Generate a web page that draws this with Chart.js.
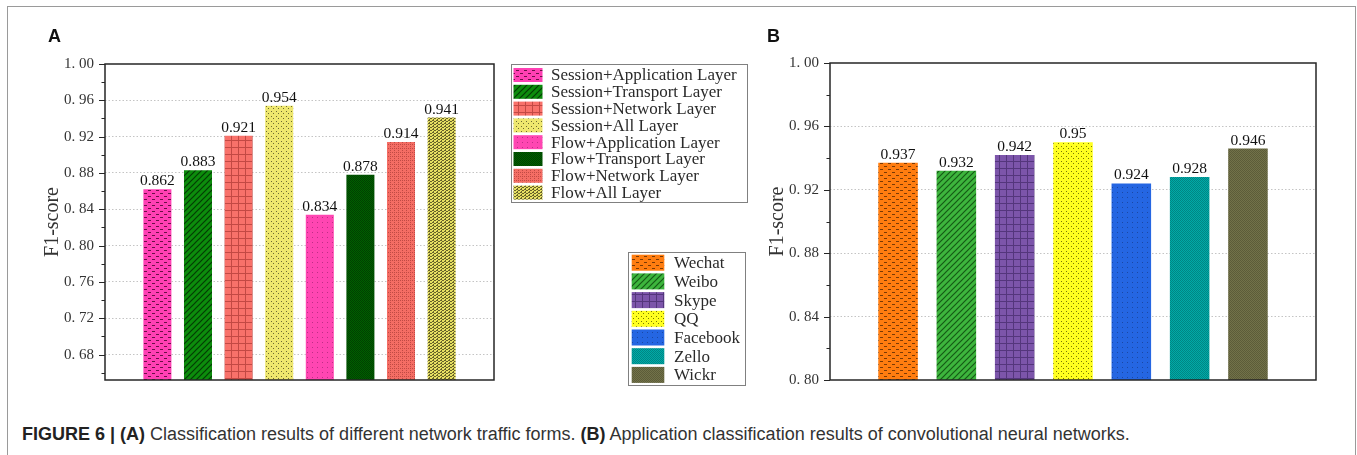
<!DOCTYPE html>
<html><head><meta charset="utf-8">
<script src="https://cdn.jsdelivr.net/npm/chart.js@4.4.1/dist/chart.umd.min.js"></script>
<style>
html,body{margin:0;padding:0;background:#fff;width:1357px;height:455px;overflow:hidden;}
#frame{position:absolute;left:7px;top:6px;width:1349px;height:480px;border:1.5px solid #9a9a9a;box-sizing:border-box;}
canvas{position:absolute;top:0;}
#cA{left:0;}
#cB{left:600px;}
.pl{position:absolute;font:bold 18px "Liberation Sans",Arial,sans-serif;color:#111;line-height:1;}
#cap{position:absolute;left:22px;top:425px;font:18px "Liberation Sans",Arial,sans-serif;color:#333;white-space:nowrap;line-height:1;}
#cap b{color:#222;}
</style></head>
<body>
<div id="frame"></div>
<canvas id="cA" width="760" height="400"></canvas>
<canvas id="cB" width="757" height="400"></canvas>
<div class="pl" style="left:48px;top:27px;">A</div>
<div class="pl" style="left:767px;top:27px;">B</div>
<div id="cap"><b>FIGURE 6 | (A)</b> Classification results of different network traffic forms. <b>(B)</b> Application classification results of convolutional neural networks.</div>
<script>
// ---------- data ----------
const A_LABELS = ['Session+Application Layer','Session+Transport Layer','Session+Network Layer','Session+All Layer',
                  'Flow+Application Layer','Flow+Transport Layer','Flow+Network Layer','Flow+All Layer'];
const A_VALUES = [0.862, 0.883, 0.921, 0.954, 0.834, 0.878, 0.914, 0.941];
const A_COLORS = ['#ff40b4','#0c8c0c','#f8716a','#eee76e','#ff46b2','#005f00','#f46d64','#e6df62'];
const A_INKS   = ['#6a1046','#022e02','#b5403b','#6e6a30','#a42274','#002800','#a93c36','#3e3a16'];
const A_PATTERNS = ['dash','diag','grid','dots','sdots','check','cross','wave'];
const A_TICKS = [0.68, 0.72, 0.76, 0.80, 0.84, 0.88, 0.92, 0.96, 1.00];
const A_Y_MIN = 0.652, A_Y_MAX = 1.00;

const B_LABELS = ['Wechat','Weibo','Skype','QQ','Facebook','Zello','Wickr'];
const B_VALUES = [0.937, 0.932, 0.942, 0.95, 0.924, 0.928, 0.946];
const B_COLORS = ['#ff7d10','#3db53d','#7c55aa','#ffff20','#2566e2','#00aaa8','#727249'];
const B_INKS   = ['#7a3a05','#0e4a0e','#4a2e70','#7a7a00','#163c8a','#006866','#4a4a2c'];
const B_PATTERNS = ['dash','diag','grid','dots','sdots','check','check'];
const B_TICKS = [0.80, 0.84, 0.88, 0.92, 0.96, 1.00];
const B_Y_MIN = 0.80, B_Y_MAX = 1.00;

// ---------- patterns ----------
function makePattern(kind, base, ink) {
  const sizes = {dash:[8,6], diag:[6,6], grid:[7,7], dots:[5,5], sdots:[5,5], check:[2,2], cross:[4,4], wave:[4,3]};
  const s = sizes[kind];
  const c = document.createElement('canvas');
  c.width = s[0]; c.height = s[1];
  const g = c.getContext('2d');
  g.fillStyle = base; g.fillRect(0,0,c.width,c.height);
  g.fillStyle = ink; g.strokeStyle = ink;
  switch (kind) {
    case 'dash': g.fillRect(0,1,3,1); g.fillRect(4,4,3,1); break;
    case 'diag':
      g.lineWidth = 1.2; g.globalAlpha = 0.85; g.beginPath();
      g.moveTo(-1,7); g.lineTo(7,-1); g.moveTo(-1,1); g.lineTo(1,-1); g.moveTo(5,7); g.lineTo(7,5);
      g.stroke(); break;
    case 'grid': g.globalAlpha = 0.8; g.fillRect(0,0,7,1); g.fillRect(0,1,1,6); break;
    case 'dots': g.fillRect(1,1,1,1); g.fillRect(3,3,1,1); break;
    case 'sdots': g.globalAlpha = 0.7; g.fillRect(2,2,1,1); break;
    case 'check': g.globalAlpha = 0.55; g.fillRect(0,0,1,1); g.fillRect(1,1,1,1); break;
    case 'cross': g.globalAlpha = 0.7; g.fillRect(0,0,1,1); g.fillRect(2,2,1,1); g.fillRect(2,0,1,1); break;
    case 'wave': g.globalAlpha = 0.75; g.fillRect(0,0,2,1); g.fillRect(2,1,2,1); g.fillRect(1,2,1,1); break;
  }
  return g.createPattern(c, 'repeat');
}

// ---------- plugins ----------
const boxLegend = {
  id: 'boxLegend',
  afterDraw(chart, args, o) {
    const ctx = chart.ctx;
    ctx.save();
    ctx.fillStyle = '#fff';
    ctx.fillRect(o.x, o.y, o.w, o.h);
    ctx.strokeStyle = '#808080'; ctx.lineWidth = 1;
    ctx.strokeRect(o.x + 0.5, o.y + 0.5, o.w, o.h);
    ctx.font = o.font; ctx.textBaseline = 'middle'; ctx.textAlign = 'left';
    chart.data.datasets.forEach((ds, i) => {
      const cy = o.y + o.firstRow + i * o.rowH;
      ctx.fillStyle = ds.backgroundColor;
      ctx.fillRect(o.sx, cy - o.sh / 2, o.sw, o.sh);
      ctx.fillStyle = '#2a2a2a';
      ctx.fillText(ds.label, o.tx, cy + 1);
    });
    ctx.restore();
  }
};

const frameAndLabels = {
  id: 'frameAndLabels',
  afterDatasetsDraw(chart, args, o) {
    const ctx = chart.ctx, a = chart.chartArea, ys = chart.scales.y;
    ctx.save();
    // value labels
    ctx.font = o.valueFont; ctx.fillStyle = '#111'; ctx.textAlign = 'center'; ctx.textBaseline = 'alphabetic';
    chart.data.datasets.forEach((ds, i) => {
      const el = chart.getDatasetMeta(i).data[0];
      ctx.fillText(String(ds.data[0]), el.x, el.y - 4);
    });
    // frame
    ctx.strokeStyle = '#262626'; ctx.lineWidth = 1.5;
    ctx.strokeRect(a.left, a.top, a.right - a.left, a.bottom - a.top);
    // major + minor tick marks
    const majors = o.ticks;
    const step = majors[1] - majors[0];
    ctx.lineWidth = 1.2;
    ctx.beginPath();
    majors.forEach(v => {
      const p = Math.round(ys.getPixelForValue(v)) + 0.5;
      ctx.moveTo(a.left - 6, p); ctx.lineTo(a.left, p);
    });
    for (let v = majors[0] - step / 2; v < ys.max; v += step) {
      if (v <= ys.min) continue;
      const p = Math.round(ys.getPixelForValue(v)) + 0.5;
      ctx.moveTo(a.left - 3.5, p); ctx.lineTo(a.left, p);
    }
    ctx.stroke();
    ctx.restore();
  }
};

function buildChart(canvasId, labels, values, colors, inks, kinds, ticks, yMin, yMax, layout, catPct, barPct, legendOpts) {
  const datasets = labels.map((lab, i) => ({
    label: lab,
    data: [values[i]],
    backgroundColor: makePattern(kinds[i], colors[i], inks[i]),
    borderWidth: 0,
    categoryPercentage: catPct,
    barPercentage: barPct
  }));
  return new Chart(document.getElementById(canvasId), {
    type: 'bar',
    data: { labels: [''], datasets },
    plugins: [frameAndLabels, boxLegend],
    options: {
      responsive: false, animation: false, devicePixelRatio: 1,
      layout: { padding: layout },
      plugins: {
        legend: { display: false }, tooltip: { enabled: false },
        boxLegend: legendOpts,
        frameAndLabels: { ticks, valueFont: '15.5px "Liberation Serif", serif' }
      },
      scales: {
        x: { display: false },
        y: {
          min: yMin, max: yMax,
          afterBuildTicks: s => { s.ticks = ticks.map(v => ({ value: v })); },
          afterFit: s => { s.width = 68; },
          grid: {
            drawTicks: false, lineWidth: 1,
            color: c => (c.tick && c.tick.value > yMin + 1e-6 && c.tick.value < yMax - 1e-6) ? '#c4c4c4' : 'rgba(0,0,0,0)'
          },
          border: { display: false, dash: [1.5, 2] },
          ticks: {
            padding: 11, color: '#333',
            font: { family: '"Liberation Serif", serif', size: 15 },
            callback: v => Number(v).toFixed(2).replace('.', '. ')
          },
          title: { display: true, text: 'F1-score', color: '#333', padding: 4,
                   font: { family: '"Liberation Serif", serif', size: 20 } }
        }
      }
    }
  });
}

buildChart('cA', A_LABELS, A_VALUES, A_COLORS, A_INKS, A_PATTERNS, A_TICKS, A_Y_MIN, A_Y_MAX,
  { left: 37, top: 64, right: 266, bottom: 16 }, 0.835, 0.69,
  { x: 511, y: 64, w: 236, h: 138, firstRow: 11, rowH: 16.8, sx: 513.5, sw: 29, sh: 14, tx: 551,
    font: '17px "Liberation Serif", serif' });

buildChart('cB', B_LABELS, B_VALUES, B_COLORS, B_INKS, B_PATTERNS, B_TICKS, B_Y_MIN, B_Y_MAX,
  { left: 162, top: 63, right: 41, bottom: 18 }, 0.84, 0.678,
  { x: 28, y: 252, w: 117, h: 133, firstRow: 10.7, rowH: 18.7, sx: 31.7, sw: 32.6, sh: 16, tx: 74,
    font: '17px "Liberation Serif", serif' });
</script>
</body></html>
